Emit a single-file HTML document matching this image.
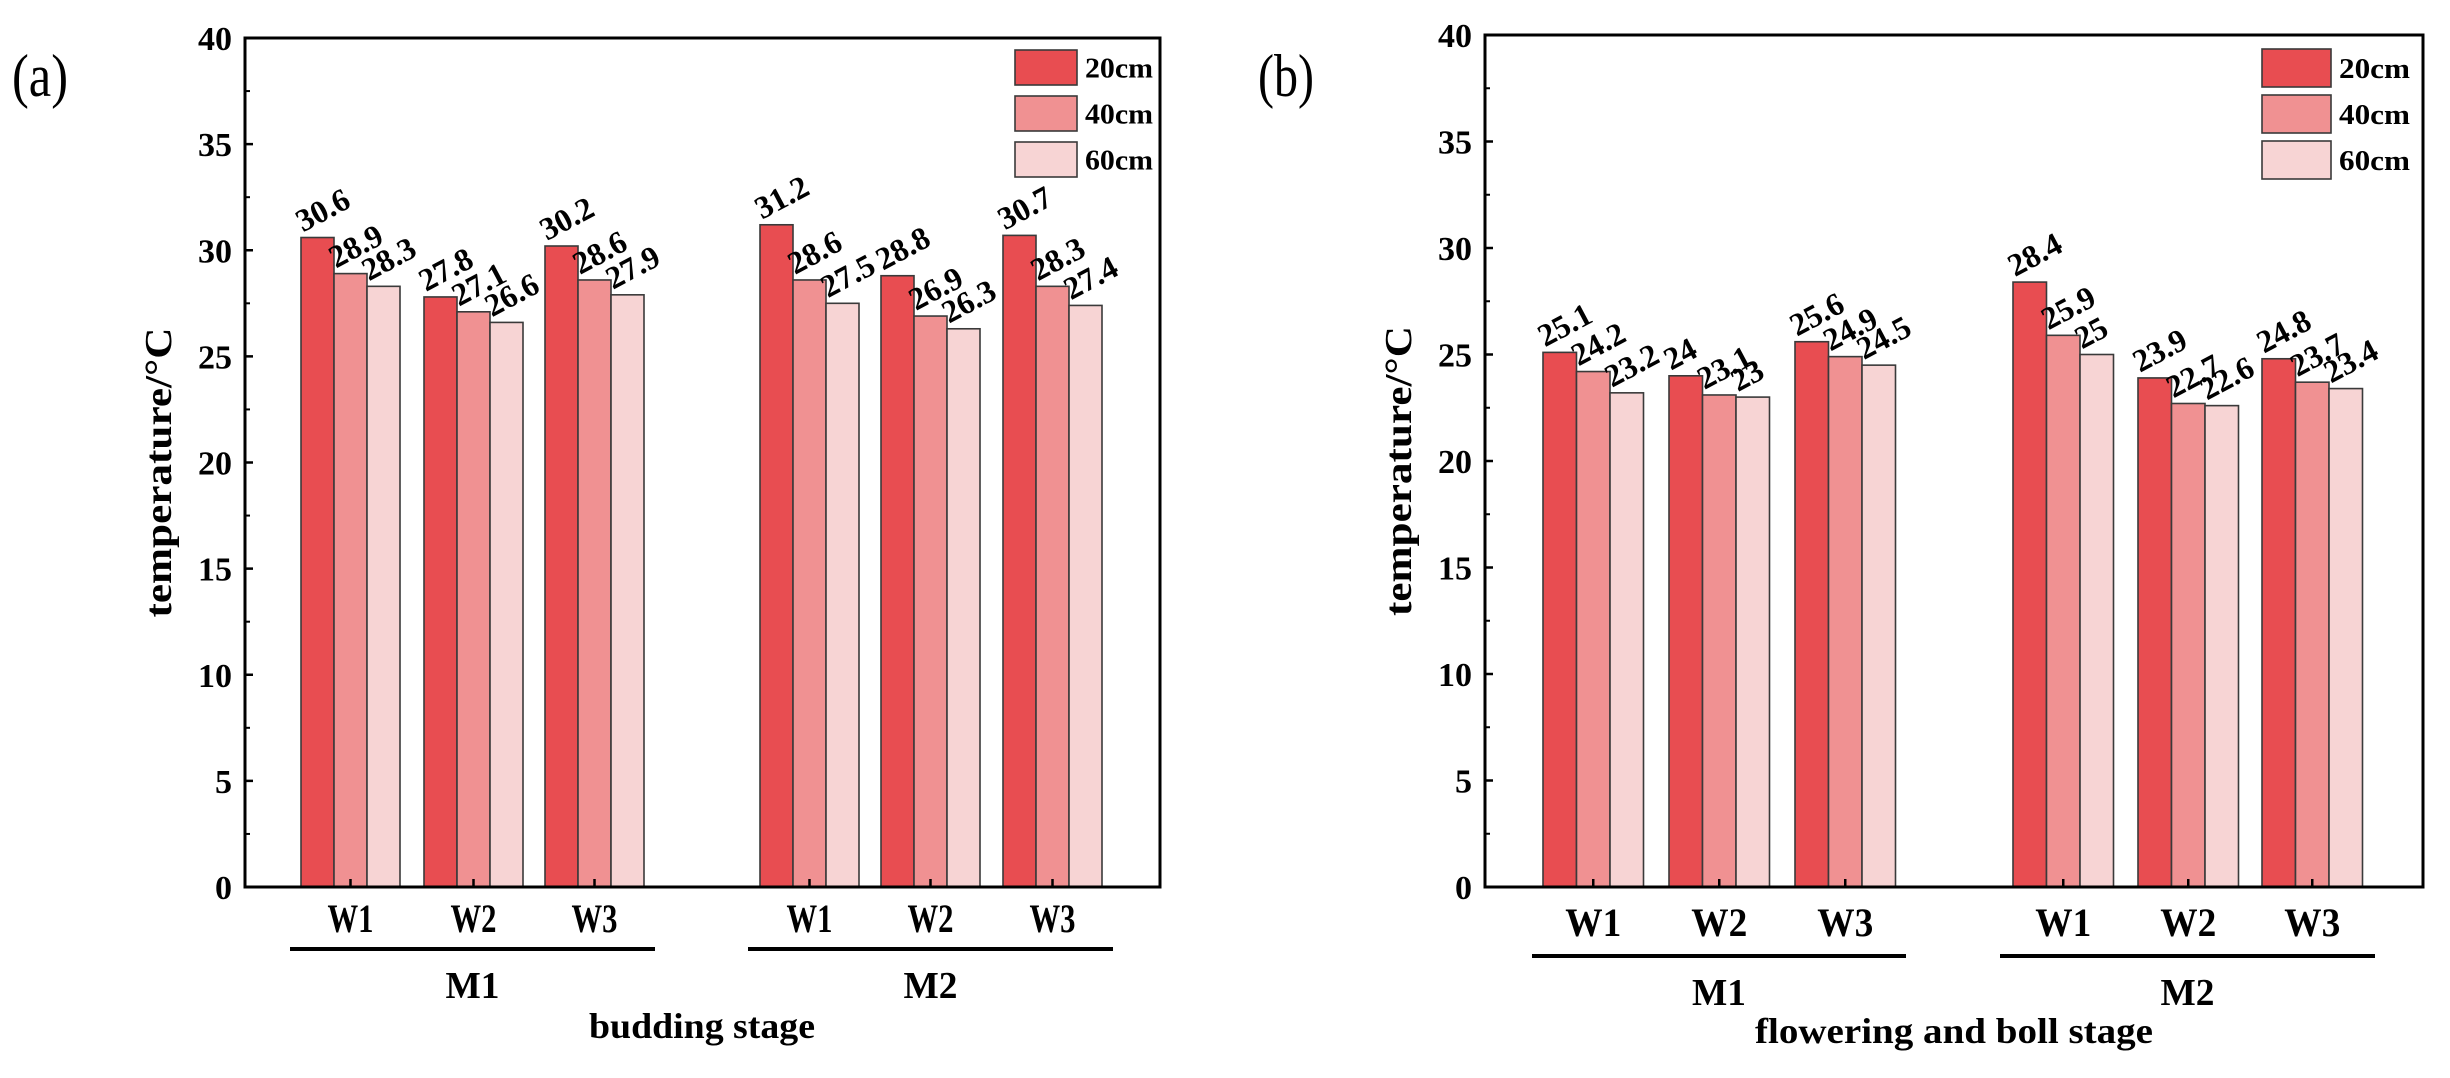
<!DOCTYPE html>
<html><head><meta charset="utf-8"><style>
html,body{margin:0;padding:0;background:#fff;}
svg{display:block;}
text{font-family:"Liberation Serif","Times New Roman",serif;fill:#000;}
</style></head><body>
<svg id="chart" width="2450" height="1078" viewBox="0 0 2450 1078" xmlns="http://www.w3.org/2000/svg" font-family="'Liberation Serif', 'Times New Roman', serif"></svg>
<script>
const series = ["20cm","40cm","60cm"];
const groups = ["W1","W2","W3","W1","W2","W3"];
const mainGroups = ["M1","M2"];
const yTicks = [0,5,10,15,20,25,30,35,40];
const budding20 = [30.6,27.8,30.2,31.2,28.8,30.7];
const budding40 = [28.9,27.1,28.6,28.6,26.9,28.3];
const budding60 = [28.3,26.6,27.9,27.5,26.3,27.4];
const flower20 = [25.1,24,25.6,28.4,23.9,24.8];
const flower40 = [24.2,23.1,24.9,25.9,22.7,23.7];
const flower60 = [23.2,23,24.5,25,22.6,23.4];

const colors = ["#E84D51","#F09192","#F7D4D4"];
const FONT = "'Liberation Serif', 'Times New Roman', serif";
const NS = "http://www.w3.org/2000/svg";
const svg = document.getElementById("chart");
function mk(tag, attrs, parent, txt){
  const e = document.createElementNS(NS, tag);
  for (const k in attrs) e.setAttribute(k, attrs[k]);
  if (tag === "text") e.setAttribute("font-family", FONT);
  if (txt !== undefined) e.textContent = txt;
  (parent || svg).appendChild(e);
  return e;
}

const panels = [
  {id:"a", label:"(a)", labelX:12, labelY:96, left:245, right:1160, top:38, bottom:887,
   groupStart:[301,424,545,760,881,1003], barW:33, values:[budding20,budding40,budding60],
   legX:1015, legY:[50,96,142], legW:62, legH:35, legTextW:68,
   wY:932, wLen:46, mLineY:949, mLines:[[290,655],[748,1113]], mY:998, mLen:54,
   title:"budding stage", titleX:702, titleY:1038, titleLen:226},
  {id:"b", label:"(b)", labelX:1258, labelY:96, left:1485, right:2423, top:35, bottom:887,
   groupStart:[1543,1669,1795,2013,2138,2262], barW:33.5, values:[flower20,flower40,flower60],
   legX:2262, legY:[49,95,141], legW:69, legH:38, legTextW:71,
   wY:936, wLen:56, mLineY:956, mLines:[[1532,1906],[2000,2375]], mY:1005, mLen:54,
   title:"flowering and boll stage", titleX:1954, titleY:1043, titleLen:398}
];

panels.forEach(p => {
  const g = mk("g", {});
  
  
  const y = v => p.bottom - (v / 40) * (p.bottom - p.top);

  const pl = mk("text", {x:p.labelX, y:p.labelY, "font-size":60, textLength:56, lengthAdjust:"spacingAndGlyphs"}, g, p.label);
  
  

  for (let s = 0; s < 3; s++) {
    groups.forEach((gname, i) => {
      const v = p.values[s][i];
      const x = p.groupStart[i] + s * p.barW;
      const r = mk("rect", {x:x, y:y(v), width:p.barW, height:p.bottom - y(v), fill:colors[s], stroke:"#3a3a3a", "stroke-width":1.6}, g);
      
      
      const tx = x + 2, ty = y(v) - 5;
      const t = mk("text", {x:tx, y:ty, "font-size":32, "font-weight":"bold", transform:`rotate(-28 ${tx} ${ty})`}, g, String(v));
      
      
    });
  }

  const fr = mk("rect", {x:p.left, y:p.top, width:p.right - p.left, height:p.bottom - p.top, fill:"none", stroke:"#000", "stroke-width":3}, g);
  
  

  yTicks.forEach(v => {
    mk("line", {x1:p.left, x2:p.left + 8, y1:y(v), y2:y(v), stroke:"#000", "stroke-width":2.5}, g);
    const t = mk("text", {x:p.left - 13, y:y(v) + 12, "font-size":34, "font-weight":"bold", "text-anchor":"end"}, g, String(v));
    
    
    if (v < 40) mk("line", {x1:p.left, x2:p.left + 5, y1:y(v + 2.5), y2:y(v + 2.5), stroke:"#000", "stroke-width":2}, g);
  });
  const yt = mk("text", {x:0, y:0, "font-size":38, "font-weight":"bold", "text-anchor":"middle", textLength:290, lengthAdjust:"spacingAndGlyphs",
    transform:`translate(${p.left - 74} ${(p.top + p.bottom) / 2 + 10}) rotate(-90)`}, g, "temperature/°C");
  
  

  groups.forEach((gname, i) => {
    const cx = p.groupStart[i] + 1.5 * p.barW;
    mk("line", {x1:cx, x2:cx, y1:p.bottom, y2:p.bottom - 8, stroke:"#000", "stroke-width":2.5}, g);
    const t = mk("text", {x:cx, y:p.wY, "font-size":40, "font-weight":"bold", "text-anchor":"middle", textLength:p.wLen, lengthAdjust:"spacingAndGlyphs"}, g, gname);
    
    
  });
  mainGroups.forEach((m, j) => {
    const [x1, x2] = p.mLines[j];
    const ln = mk("line", {x1:x1, x2:x2, y1:p.mLineY, y2:p.mLineY, stroke:"#000", "stroke-width":4}, g);
    
    
    const t = mk("text", {x:(x1 + x2) / 2, y:p.mY, "font-size":38, "font-weight":"bold", "text-anchor":"middle", textLength:p.mLen, lengthAdjust:"spacingAndGlyphs"}, g, m);
    
    
  });
  const xt = mk("text", {x:p.titleX, y:p.titleY, "font-size":36, "font-weight":"bold", "text-anchor":"middle", textLength:p.titleLen, lengthAdjust:"spacingAndGlyphs"}, g, p.title);
  
  

  series.forEach((s, k) => {
    const r = mk("rect", {x:p.legX, y:p.legY[k], width:p.legW, height:p.legH, fill:colors[k], stroke:"#3a3a3a", "stroke-width":1.6}, g);
    
    
    const t = mk("text", {x:p.legX + p.legW + 8, y:p.legY[k] + p.legH / 2 + 10, "font-size":28, "font-weight":"bold", textLength:p.legTextW, lengthAdjust:"spacingAndGlyphs"}, g, s);
    
    
  });
});
</script>
</body></html>
